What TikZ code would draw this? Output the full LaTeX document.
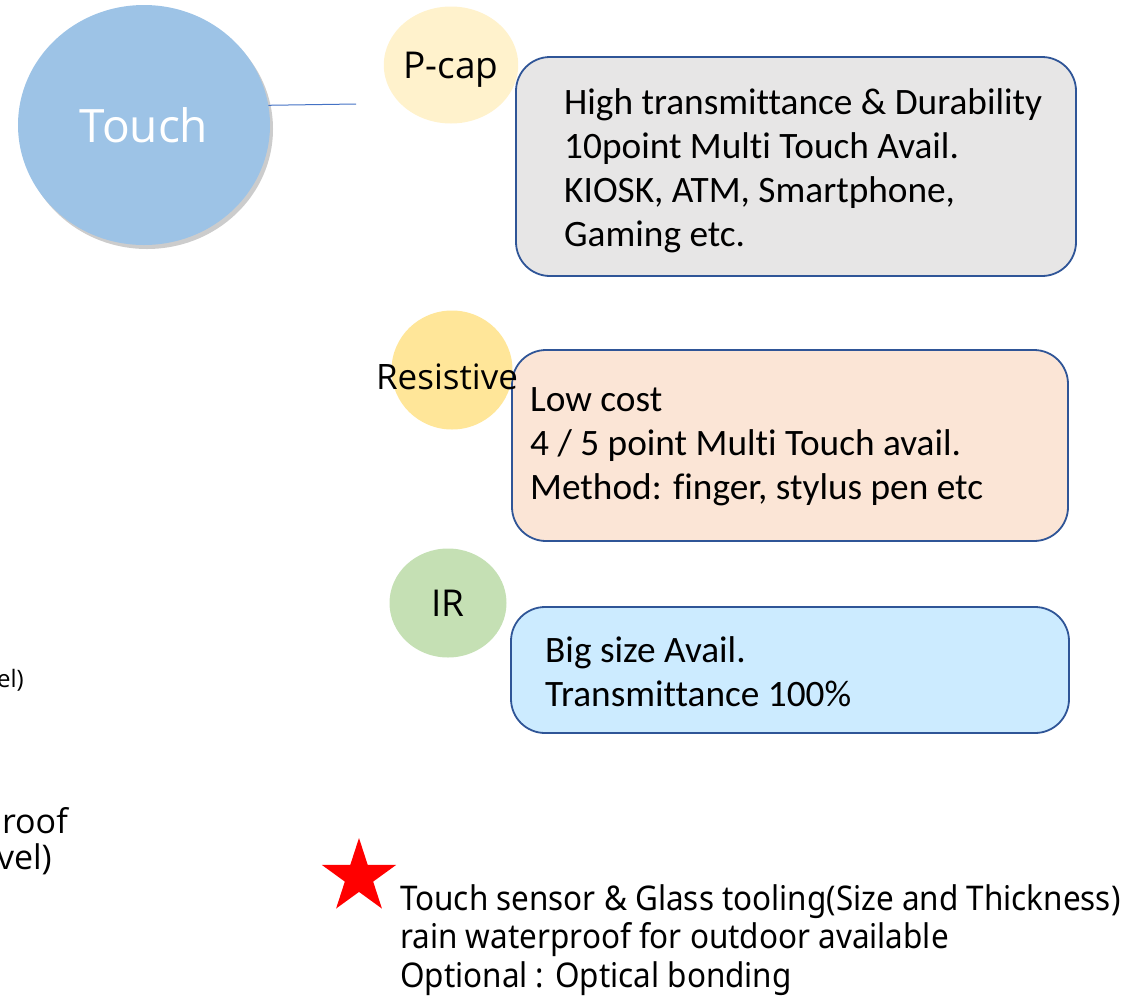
\documentclass[tikz,border=0pt]{standalone}
\usepackage{fontspec}
\setmainfont{Open Sans}
\newfontfamily\boxfont[Ligatures=CommonOff]{Carlito}
\newfontfamily\notefont[FakeStretch=0.925]{Noto Sans}
\usetikzlibrary{shapes.geometric,shadows}
\definecolor{touchblue}{HTML}{9DC3E6}
\definecolor{linkblue}{HTML}{4472C4}
\definecolor{pcapfill}{HTML}{FFF2CC}
\definecolor{resfill}{HTML}{FFE699}
\definecolor{irfill}{HTML}{C5E0B4}
\definecolor{boxline}{HTML}{2F5597}
\definecolor{graybox}{HTML}{E7E6E6}
\definecolor{peachbox}{HTML}{FBE5D6}
\definecolor{skybox}{HTML}{CCEBFF}

\begin{document}
\begin{tikzpicture}[x=1pt,y=-1pt,
	kind/.style={ellipse,inner sep=0pt,font=\fontsize{37}{40}\selectfont},
	info/.style={draw=boxline,line width=1.8pt,rounded corners=34pt,inner sep=0pt},
	infotext/.style={anchor=west,align=left,inner sep=0pt,font=\boxfont\fontsize{37.3}{44}\selectfont},
	cut/.style={anchor=base east,inner sep=0pt}]
	\useasboundingbox (0,0) rectangle (1127,1002);
	\node[ellipse,fill=touchblue,minimum width=252pt,minimum height=240pt,inner sep=0pt,
		drop shadow={shadow xshift=3pt,shadow yshift=-4pt,fill=black,opacity=.2},
		text=white,font=\fontsize{46}{50}\selectfont] (touch) at (144,125) {Touch};
	\coordinate (linkend) at (356,104);
	\draw[linkblue,line width=1pt] (touch.9.5) -- (linkend);
	\node[info,fill=graybox,minimum width=560pt,minimum height=219pt] (pcapbox) at (796,166.5) {};
	\node[info,fill=peachbox,minimum width=556pt,minimum height=191pt] (resbox) at (790,445.5) {};
	\node[info,fill=skybox,minimum width=558pt,minimum height=126pt] (irbox) at (790,670) {};
	\node[kind,fill=pcapfill,minimum width=116pt,minimum height=117pt,text depth=0pt] (pcap) at (451,65) {P-cap};
	\node[kind,fill=resfill,minimum width=121pt,minimum height=119pt] (res) at (452,370) {};
	\node[inner sep=0pt,font=\fontsize{35}{40}\selectfont] (reslabel) at (447,377) {Resistive};
	\node[kind,fill=irfill,minimum width=117pt,minimum height=109pt] (ir) at (448,603) {IR};
	\node[infotext] (pcaptext) at (564,171) {High transmittance \& Durability\\10point Multi Touch Avail.\\KIOSK, ATM, Smartphone,\\Gaming etc.};
	\node[infotext] (restext) at (530,447) {Low cost\\4 / 5 point Multi Touch avail.\\Method: finger, stylus pen etc};
	\node[infotext] (irtext) at (545,671.5) {Big size Avail.\\Transmittance 100\%};
	\node[star,star points=5,star point ratio=2.618,fill=red,inner sep=0pt,minimum size=78pt] (redstar) at (359,877) {};
	\node[anchor=west,align=left,inner sep=0pt,font=\notefont\fontsize{34}{38.5}\selectfont] (note) at (400,940) {Touch sensor \& Glass tooling(Size and Thickness)\\rain waterproof for outdoor available\\Optional : Optical bonding};
	\node[cut,font=\fontsize{24}{28}\selectfont] (frag1) at (24,687) {el)};
	\node[cut,font=\fontsize{34}{38}\selectfont] (frag2) at (68,833) {roof};
	\node[cut,font=\fontsize{34}{38}\selectfont] (frag3) at (52,869) {vel)};
\end{tikzpicture}
\end{document}
